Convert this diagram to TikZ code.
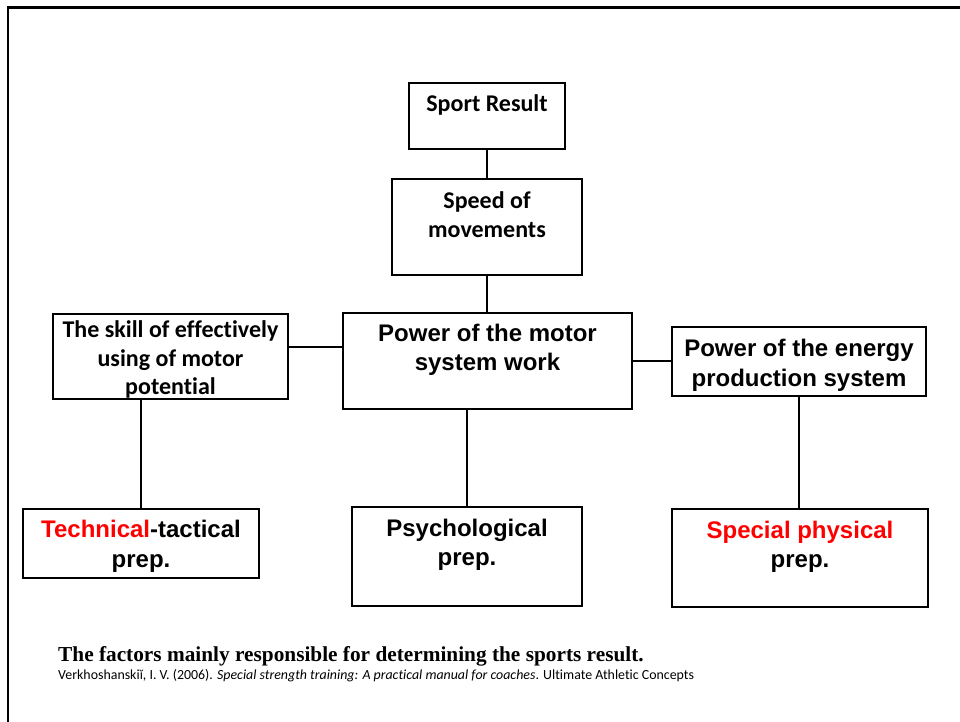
\documentclass[tikz,border=0pt]{standalone}
\usepackage{fontspec}
\setmainfont{Liberation Serif}
\newfontfamily\calfont[Ligatures=NoCommon]{Carlito}
\newfontfamily\arifont{Liberation Sans}
\usetikzlibrary{calc}
\definecolor{redtxt}{RGB}{255,0,0}
\tikzset{
  box/.style={draw, line width=2.4pt, rectangle, inner sep=0pt},
  link/.style={line width=2pt},
  caltxt/.style={anchor=north, align=center, inner sep=0pt, font=\calfont\bfseries\fontsize{24}{28.5}\selectfont},
  aritxt/.style={anchor=north, align=center, inner sep=0pt, font=\arifont\bfseries\fontsize{24}{29.5}\selectfont}
}
\begin{document}
\begin{tikzpicture}[x=1pt,y=1pt]
\useasboundingbox (0,0) rectangle (960,722);
% outer frame (left and top edges visible)
\draw[line width=2.4pt] (8,-10) -- (8,714.5) -- (975,714.5);
% boxes
\node[box, minimum width=156pt, minimum height=66pt] (sr) at (487,606) {};
\node[box, minimum width=190pt, minimum height=96pt] (sp) at (487,495) {};
\node[box, minimum width=289pt, minimum height=96pt] (motor) at (487.5,361) {};
\node[box, minimum width=235pt, minimum height=85pt] (skill) at (170.5,365.5) {};
\node[box, minimum width=254pt, minimum height=69pt] (energy) at (799,360.5) {};
\node[box, minimum width=236pt, minimum height=69pt] (tech) at (141,178.5) {};
\node[box, minimum width=230pt, minimum height=99pt] (psych) at (467,165.5) {};
\node[box, minimum width=256pt, minimum height=98pt] (special) at (800,164) {};
% texts
\node[caltxt] (srT) at ($(sr.north)+(0,-13)$) {Sport Result};
\node[caltxt] (spT) at ($(sp.north)+(0,-14)$) {Speed of\\movements};
\node[aritxt] (motorT) at ($(motor.north)+(0,-12)$) {Power of the motor\\system work};
\node[caltxt] (skillT) at ($(skill.north)+(0,-8)$) {The skill of effectively\\using of motor\\potential};
\node[aritxt] (energyT) at ($(energy.north)+(0,-13.5)$) {Power of the energy\\production system};
\node[aritxt] (techT) at ($(tech.north)+(0,-12.5)$) {\textcolor{redtxt}{Technical}-tactical\\prep.};
\node[aritxt] (psychT) at ($(psych.north)+(0,-13)$) {Psychological\\prep.};
\node[aritxt] (specialT) at ($(special.north)+(0,-13)$) {\textcolor{redtxt}{Special physical}\\prep.};
% connectors
\draw[link] (sr.south) -- (sp.north);
\draw[link] (sp.south) -- (sp.south |- motor.north);
\draw[link] ($(skill.east)+(0,9.5)$) coordinate (a) -- (a -| motor.west);
\draw[link] (motor.east) -- (motor.east -| energy.west);
\draw[link] (tech.north |- skill.south) -- (tech.north);
\draw[link] (psych.north |- motor.south) -- (psych.north);
\draw[link] (energy.south) -- (energy.south |- special.north);
% caption
\node[anchor=base west, inner sep=0pt, font=\bfseries\fontsize{21.3}{24}\selectfont] (cap) at (58,60) {The factors mainly responsible for determining the sports result.};
\node[anchor=base west, inner sep=0pt, font=\calfont\fontsize{13.9}{15}\selectfont] (cite) at (58,42.5) {Verkhoshanskiĭ, I. V. (2006). \textit{Special strength training: A practical manual for coaches}. Ultimate Athletic Concepts};
\end{tikzpicture}
\end{document}
